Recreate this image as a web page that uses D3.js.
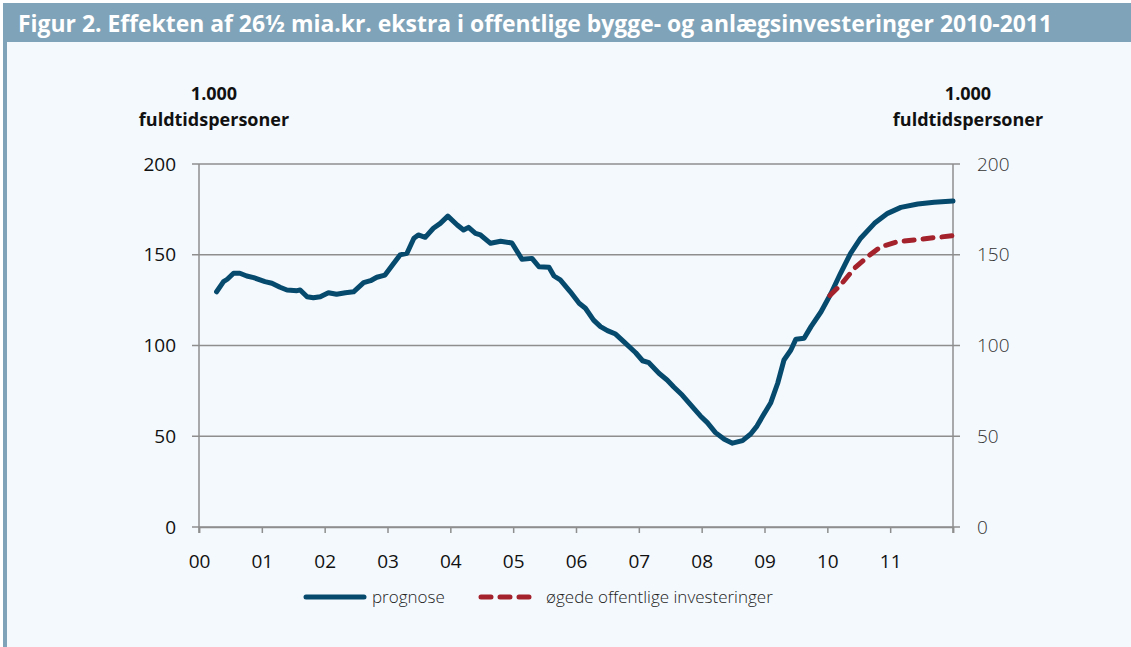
<!DOCTYPE html>
<html>
<head>
<meta charset="utf-8">
<script src="https://cdn.jsdelivr.net/npm/d3@7"></script>
<style>
  html, body { margin: 0; padding: 0; background: #ffffff; }
  svg { display: block; }
</style>
</head>
<body>
<svg id="chart" width="1131" height="647"></svg>
<script>
// Years (00 = 2000) and the y ticks
const yearLabels = ["00", "01", "02", "03", "04", "05", "06", "07", "08", "09", "10", "11"];
const yTicks = [0, 50, 100, 150, 200];

// prognose: [year offset, 1.000 fuldtidspersoner]
const prognose = [
  [0.28, 129.6], [0.39, 135.2], [0.45, 136.5], [0.55, 139.8], [0.65, 139.8],
  [0.76, 138.3], [0.87, 137.4], [1.05, 135.2], [1.16, 134.3], [1.29, 132.1],
  [1.40, 130.6], [1.56, 130.2], [1.61, 130.6], [1.72, 126.9], [1.82, 126.3],
  [1.93, 126.9], [2.06, 129.1], [2.19, 128.2], [2.33, 129.1], [2.46, 129.6],
  [2.62, 134.6], [2.73, 135.7], [2.83, 137.6], [2.96, 138.8], [3.10, 145.3],
  [3.20, 149.9], [3.31, 150.8], [3.42, 159.1], [3.49, 160.9], [3.60, 159.6],
  [3.73, 164.6], [3.84, 167.3], [3.96, 171.3], [4.11, 166.4], [4.21, 163.6],
  [4.29, 165.1], [4.40, 161.8], [4.48, 160.9], [4.64, 156.3], [4.80, 157.4],
  [4.98, 156.5], [5.14, 147.5], [5.30, 148.0], [5.41, 143.4], [5.57, 143.1],
  [5.65, 138.3], [5.75, 136.1], [5.91, 129.6], [6.05, 123.3], [6.15, 120.5],
  [6.28, 114.0], [6.39, 110.4], [6.50, 108.2], [6.63, 106.3], [6.76, 102.1],
  [6.95, 96.0], [7.06, 91.6], [7.16, 90.5], [7.32, 84.7], [7.45, 81.0],
  [7.56, 77.0], [7.69, 72.7], [7.85, 66.3], [7.98, 61.2], [8.09, 57.5],
  [8.22, 52.0], [8.36, 48.3], [8.49, 46.2], [8.65, 47.6], [8.78, 51.2],
  [8.88, 55.6], [8.97, 61.0], [9.10, 68.5], [9.21, 79.2], [9.31, 92.0],
  [9.42, 97.5], [9.50, 103.5], [9.63, 104.0], [9.74, 110.4], [9.90, 118.6],
  [10.06, 128.8], [10.21, 139.8], [10.37, 150.8], [10.53, 159.1], [10.75, 167.3],
  [10.96, 172.8], [11.17, 176.1], [11.44, 178.0], [11.70, 178.9], [12.0, 179.6]
];

// øgede offentlige investeringer
const oegede = [
  [10.04, 127.5], [10.21, 133.3], [10.43, 142.5], [10.64, 148.9], [10.85, 154.4],
  [11.12, 157.2], [11.38, 158.1], [11.70, 159.4], [12.0, 160.5]
];

const seriesNames = ["prognose", "øgede offentlige investeringer"];
const titleText = "Figur 2. Effekten af 26½ mia.kr. ekstra i offentlige bygge- og anlægsinvesteringer 2010-2011";
const unitLines = ["1.000", "fuldtidspersoner"];

(function () {
  const svg = d3.select("#chart");
  const W = 1131, H = 647;
  const FONT = "'Open Sans', 'Noto Sans', sans-serif";
  const BAR = "#7fa3b8";
  const BLUE = "#064a6e";
  const RED = "#a4222b";
  const GRID = "#8e8e8e";

  // panel + header
  svg.append("rect").attr("x", 3).attr("y", 3).attr("width", W - 3).attr("height", H - 3).attr("fill", "#f4f9fd");
  svg.append("rect").attr("x", 3).attr("y", 3).attr("width", W - 3).attr("height", 39).attr("fill", BAR);
  svg.append("rect").attr("x", 3).attr("y", 42).attr("width", 4).attr("height", H - 42).attr("fill", BAR);

  svg.append("text")
    .attr("x", 18).attr("y", 32)
    .attr("font-family", FONT)
    .attr("font-size", 24)
    .attr("font-weight", 700)
    .attr("fill", "#ffffff")
    .attr("textLength", 1034)
    .attr("lengthAdjust", "spacingAndGlyphs")
    .text(titleText);

  // plot area
  const x0 = 199, x1 = 953, yTop = 164, yBot = 527;
  const x = d3.scaleLinear().domain([0, 12]).range([x0, x1]);
  const y = d3.scaleLinear().domain([0, 200]).range([yBot, yTop]);

  // gridlines (incl. ticks both sides)
  svg.append("g")
    .selectAll("line")
    .data(yTicks)
    .join("line")
    .attr("x1", x0 - 7).attr("x2", x1 + 7)
    .attr("y1", d => y(d)).attr("y2", d => y(d))
    .attr("stroke", GRID).attr("stroke-width", 1.5);

  // left/right axis lines
  [x0, x1].forEach(px => {
    svg.append("line")
      .attr("x1", px).attr("x2", px)
      .attr("y1", yTop).attr("y2", yBot + 6)
      .attr("stroke", GRID).attr("stroke-width", 1.5);
  });

  // x axis
  const xAxis = d3.axisBottom(x)
    .tickValues(d3.range(0, 13))
    .tickSize(6)
    .tickPadding(22)
    .tickFormat(d => yearLabels[d] || "");
  const gx = svg.append("g").attr("transform", `translate(0,${yBot})`).call(xAxis);
  gx.select(".domain").attr("stroke", GRID).attr("stroke-width", 1.5);
  gx.selectAll(".tick line").attr("stroke", GRID).attr("stroke-width", 1.5);
  gx.selectAll(".tick text")
    .attr("font-family", FONT).attr("font-size", 19).attr("fill", "#111");

  // y labels left and right
  svg.append("g")
    .selectAll("text")
    .data(yTicks)
    .join("text")
    .attr("x", 176).attr("y", d => y(d))
    .attr("dy", "0.35em")
    .attr("text-anchor", "end")
    .attr("font-family", FONT).attr("font-size", 19).attr("fill", "#111")
    .text(d => d);

  svg.append("g")
    .selectAll("text")
    .data(yTicks)
    .join("text")
    .attr("x", 977).attr("y", d => y(d))
    .attr("dy", "0.35em")
    .attr("text-anchor", "start")
    .attr("font-family", FONT).attr("font-size", 19).attr("font-weight", 300).attr("fill", "#333")
    .text(d => d);

  // unit labels
  [214, 968].forEach(cx => {
    unitLines.forEach((s, i) => {
      svg.append("text")
        .attr("x", cx).attr("y", 100 + i * 26)
        .attr("text-anchor", "middle")
        .attr("font-family", FONT).attr("font-size", 18).attr("font-weight", 700)
        .attr("fill", "#111")
        .text(s);
    });
  });

  // lines
  const line = d3.line().x(d => x(d[0])).y(d => y(d[1])).curve(d3.curveLinear);

  svg.append("path")
    .datum(prognose)
    .attr("d", line)
    .attr("fill", "none")
    .attr("stroke", BLUE)
    .attr("stroke-width", 5)
    .attr("stroke-linejoin", "round")
    .attr("stroke-linecap", "round");

  svg.append("path")
    .datum(oegede)
    .attr("d", line)
    .attr("fill", "none")
    .attr("stroke", RED)
    .attr("stroke-width", 5)
    .attr("stroke-dasharray", "10,9")
    .attr("stroke-linecap", "round");

  // legend
  const ly = 597;
  svg.append("line")
    .attr("x1", 306).attr("x2", 364).attr("y1", ly).attr("y2", ly)
    .attr("stroke", BLUE).attr("stroke-width", 5).attr("stroke-linecap", "round");
  svg.append("text")
    .attr("x", 372).attr("y", ly).attr("dy", "0.35em")
    .attr("font-family", FONT).attr("font-size", 17).attr("font-weight", 300).attr("fill", "#222")
    .text(seriesNames[0]);

  svg.append("line")
    .attr("x1", 481).attr("x2", 530).attr("y1", ly).attr("y2", ly)
    .attr("stroke", RED).attr("stroke-width", 5).attr("stroke-linecap", "round")
    .attr("stroke-dasharray", "10,9");
  svg.append("text")
    .attr("x", 546).attr("y", ly).attr("dy", "0.35em")
    .attr("font-family", FONT).attr("font-size", 17).attr("font-weight", 300).attr("fill", "#222")
    .text(seriesNames[1]);
})();
</script>
</body>
</html>
